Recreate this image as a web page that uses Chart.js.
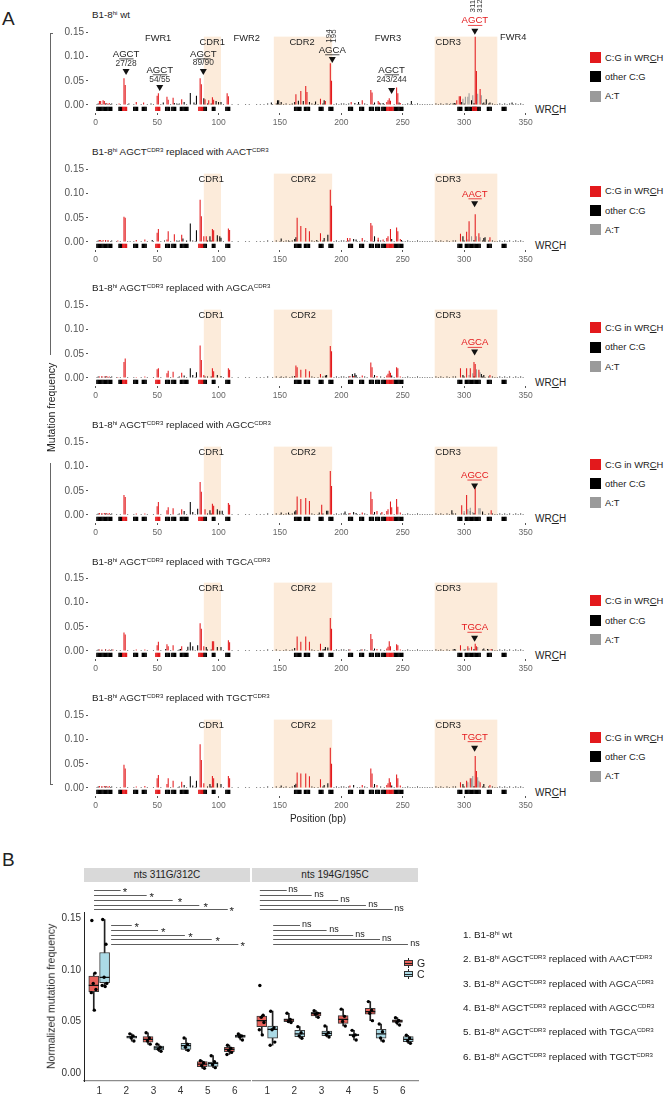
<!DOCTYPE html>
<html>
<head>
<meta charset="utf-8">
<title>Mutation frequency</title>
<script src="https://cdn.jsdelivr.net/npm/chart.js@4.4.1/dist/chart.umd.min.js"></script>
<style>
  html, body { margin: 0; padding: 0; background: #fff; }
  #page { position: relative; width: 664px; height: 1097px; overflow: hidden;
          font-family: "Liberation Sans", Arial, Helvetica, sans-serif; color: #222; }
  #page div { position: absolute; white-space: nowrap; }
  #page canvas { position: absolute; }
  sup { font-size: 0.62em; line-height: 0; vertical-align: 0.55em; }
</style>
</head>
<body>
<div id="page"></div>
<script>
// ---------- Panel A: mutation frequency by position (bp) ----------
const xTicksA = [0, 50, 100, 150, 200, 250, 300, 350];
const yTicksA = [0, 0.05, 0.1, 0.15];
const motifs = ["AGCT", "AACT", "AGCA", "AGCC", "TGCA", "TGCT"];
const cdrRegions = [[88, 102], [145, 192.5], [276, 327]];

// WRCH motif track (start, end bp)
const trackBlack = [[1,13],[19,21],[31,34],[38,41],[57,60],[62,65],[69,75],[88,90],[95,97],[106,109],
  [162,167],[170,174],[182,185],[190,193],[206,209],[215,218],[223,226],[228,231],[233,236],[243,250],
  [295,298],[301,313],[319,322],[331,334]];
const trackRed = [[22,25],[49,52],[84,87],[237,242]];
const trackRedWt = [[307,310]];

// low background C:G mutations, similar in every panel
const baseBlack = [[1,0.002],[2,0.003],[5,0.002],[8,0.003],[10,0.002],[12,0.002],[13,0.003],[15,0.001],[17,0.002],[20,0.002],
  [26,0.002],[29,0.001],[31,0.002],[35,0.001],[37,0.002],[42,0.002],[44,0.001],[47,0.002],[53,0.002],[61,0.002],[67,0.002],
  [68,0.003],[74,0.002],[81,0.002],[91,0.003],[94,0.003],[104,0.002],[111,0.002],[113,0.001],[116,0.002],[119,0.001],
  [122,0.002],[125,0.002],[128,0.001],[131,0.002],[134,0.002],[137,0.002],[140,0.003],[144,0.002],[147,0.003],[150,0.002],
  [153,0.002],[155,0.003],[158,0.002],[160,0.003],[176,0.003],[178,0.002],[181,0.002],[185,0.003],[194,0.002],[196,0.003],
  [198,0.002],[200,0.003],[202,0.003],[204,0.002],[206,0.003],[213,0.002],[215,0.002],[219,0.003],[221,0.002],[226,0.002],
  [232,0.003],[235,0.002],[243,0.002],[250,0.002],[252,0.002],[254,0.003],[256,0.002],[258,0.002],[260,0.002],[262,0.003],
  [264,0.002],[266,0.002],[268,0.002],[270,0.002],[272,0.002],[274,0.002],[277,0.003],[279,0.002],[281,0.003],[283,0.002],
  [286,0.003],[288,0.002],[291,0.003],[293,0.003],[300,0.003],[308,0.004],[315,0.003],[317,0.002],[320,0.003],[323,0.003],
  [325,0.002],[327,0.002],[329,0.003],[331,0.002],[333,0.003],[335,0.002],[337,0.003],[340,0.002],[342,0.003],[344,0.002],
  [346,0.003],[348,0.002]];

// wt
const wtRed = [[3,0.008],[4,0.008],[6,0.010],[7,0.008],[9,0.004],[11,0.004],[19,0.003],[23,0.055],[24,0.041],[33,0.006],
  [39,0.005],[50,0.019],[51,0.024],[58,0.017],[59,0.011],[63,0.015],[70,0.012],[85,0.055],[86,0.043],[89,0.012],[92,0.010],
  [95,0.016],[96,0.011],[107,0.024],[108,0.018],[163,0.022],[167,0.029],[171,0.039],[172,0.027],[183,0.013],[187,0.008],
  [191,0.086],[192,0.050],[208,0.006],[217,0.010],[224,0.031],[225,0.026],[230,0.008],[231,0.005],[237,0.006],[238,0.010],
  [239,0.014],[240,0.009],[245,0.036],[246,0.024],[248,0.004],[294,0.010],[296,0.018],[297,0.018],[309,0.141],[310,0.070],
  [313,0.033]];
const wtBlack = [[27,0.003],[45,0.003],[55,0.005],[64,0.004],[66,0.003],[72,0.006],[77,0.025],[80,0.005],[82,0.019],
  [88,0.014],[98,0.008],[100,0.006],[102,0.006],[143,0.005],[148,0.010],[149,0.010],[151,0.006],[162,0.006],[165,0.009],
  [169,0.008],[174,0.006],[179,0.007],[186,0.010],[211,0.004],[214,0.006],[227,0.005],[234,0.004],[247,0.005],[257,0.008],
  [292,0.004],[298,0.006],[306,0.010],[316,0.005],[318,0.012],[321,0.005],[339,0.005]];
const wtGrey = [[285,0.003],[289,0.004],[299,0.013],[301,0.017],[303,0.017],[304,0.024],[307,0.020],[311,0.023],[314,0.020]];

// AACT
const aactRed = [[3,0.004],[4,0.004],[6,0.004],[8,0.004],[10,0.004],[18,0.003],[23,0.052],[24,0.050],[33,0.004],[40,0.005],
  [50,0.019],[51,0.027],[58,0.005],[59,0.022],[64,0.016],[70,0.015],[85,0.087],[86,0.053],[88,0.012],[90,0.012],[95,0.027],
  [96,0.024],[108,0.028],[109,0.025],[164,0.050],[167,0.033],[171,0.029],[174,0.022],[183,0.018],[191,0.108],[192,0.075],
  [205,0.008],[207,0.008],[217,0.008],[224,0.039],[225,0.034],[230,0.009],[234,0.005],[237,0.008],[238,0.012],[240,0.027],
  [245,0.030],[246,0.022],[248,0.006],[297,0.017],[302,0.021],[304,0.043],[309,0.057],[312,0.018],[321,0.010]];
const aactBlack = [[28,0.002],[46,0.004],[56,0.003],[66,0.003],[71,0.007],[74,0.003],[77,0.038],[79,0.003],[82,0.024],
  [93,0.012],[99,0.014],[101,0.012],[102,0.009],[151,0.007],[157,0.003],[162,0.006],[163,0.010],[180,0.004],[186,0.008],
  [189,0.015],[210,0.006],[212,0.005],[227,0.012],[230,0.004],[241,0.006],[249,0.004],[299,0.012],[316,0.008],[317,0.010]];
const aactGrey = [[303,0.005],[306,0.012],[310,0.012],[313,0.010]];

// AGCA
const agcaRed = [[3,0.003],[5,0.004],[7,0.003],[9,0.004],[11,0.003],[18,0.002],[23,0.033],[24,0.040],[33,0.002],[40,0.003],
  [50,0.018],[51,0.020],[58,0.010],[59,0.015],[63,0.013],[70,0.011],[85,0.067],[86,0.037],[88,0.006],[95,0.020],[96,0.014],
  [108,0.020],[109,0.017],[163,0.026],[164,0.022],[167,0.017],[171,0.018],[174,0.014],[183,0.008],[191,0.066],[192,0.055],
  [207,0.004],[210,0.004],[217,0.005],[224,0.032],[225,0.022],[229,0.004],[237,0.005],[238,0.009],[239,0.015],[240,0.011],
  [245,0.022],[246,0.020],[248,0.003],[297,0.020],[302,0.020],[305,0.020],[308,0.033],[309,0.029],[312,0.017],[321,0.006]];
const agcaBlack = [[72,0.005],[77,0.020],[79,0.006],[82,0.012],[89,0.003],[99,0.006],[102,0.004],[151,0.003],[162,0.004],
  [187,0.005],[188,0.006],[209,0.008],[211,0.010],[212,0.006],[227,0.006],[241,0.005],[299,0.006],[314,0.008],[316,0.006]];
const agcaGrey = [[304,0.006],[307,0.010],[310,0.018],[313,0.012]];

// AGCC
const agccRed = [[3,0.004],[5,0.004],[7,0.004],[9,0.004],[11,0.004],[23,0.041],[24,0.037],[33,0.003],[40,0.003],[50,0.018],
  [51,0.027],[58,0.010],[59,0.016],[63,0.014],[70,0.012],[85,0.068],[86,0.048],[89,0.012],[95,0.023],[96,0.019],[108,0.025],
  [109,0.021],[164,0.038],[167,0.033],[171,0.035],[174,0.029],[184,0.021],[191,0.091],[192,0.060],[207,0.004],[217,0.005],
  [224,0.048],[225,0.033],[229,0.008],[233,0.006],[237,0.008],[238,0.012],[240,0.028],[241,0.016],[245,0.033],[246,0.017],
  [248,0.005],[298,0.020],[302,0.041],[309,0.063],[322,0.010]];
const agccBlack = [[72,0.008],[77,0.027],[79,0.006],[83,0.013],[93,0.010],[99,0.012],[101,0.009],[103,0.009],[151,0.005],
  [157,0.005],[162,0.007],[163,0.010],[182,0.005],[188,0.009],[189,0.009],[203,0.007],[210,0.006],[212,0.004],[227,0.006],
  [290,0.010],[305,0.008],[315,0.007]];
const agccGrey = [[300,0.008],[303,0.012],[305,0.015],[307,0.006],[312,0.014],[313,0.014]];

// TGCA
const tgcaRed = [[3,0.003],[5,0.003],[8,0.003],[11,0.003],[14,0.003],[23,0.038],[24,0.034],[33,0.003],[40,0.003],[50,0.012],
  [51,0.019],[58,0.014],[59,0.010],[63,0.012],[70,0.010],[85,0.057],[86,0.046],[88,0.010],[95,0.020],[96,0.020],[108,0.022],
  [109,0.018],[164,0.030],[167,0.019],[171,0.030],[174,0.019],[183,0.015],[191,0.068],[192,0.046],[207,0.003],[217,0.003],
  [224,0.035],[225,0.025],[229,0.004],[237,0.005],[238,0.009],[239,0.020],[240,0.010],[245,0.014],[246,0.012],[248,0.003],
  [297,0.012],[303,0.010],[306,0.009],[309,0.015],[310,0.010],[322,0.004]];
const tgcaBlack = [[57,0.004],[69,0.004],[75,0.009],[77,0.018],[79,0.010],[83,0.012],[90,0.008],[99,0.008],[102,0.008],
  [162,0.006],[186,0.004],[187,0.008],[189,0.007],[216,0.003],[227,0.005],[292,0.004],[316,0.005],[319,0.004]];
const tgcaGrey = [[301,0.004],[304,0.006],[311,0.008]];

// TGCT
const tgctRed = [[3,0.004],[5,0.004],[7,0.004],[9,0.004],[11,0.004],[23,0.048],[24,0.040],[33,0.003],[40,0.004],[50,0.020],
  [51,0.027],[58,0.008],[59,0.020],[63,0.015],[70,0.013],[85,0.090],[86,0.058],[88,0.010],[95,0.025],[96,0.020],[108,0.025],
  [109,0.020],[164,0.032],[167,0.030],[171,0.030],[174,0.024],[183,0.018],[191,0.083],[192,0.050],[207,0.005],[217,0.006],
  [224,0.040],[225,0.030],[229,0.006],[237,0.006],[238,0.010],[239,0.020],[240,0.012],[245,0.028],[246,0.020],[248,0.005],
  [297,0.012],[302,0.015],[305,0.020],[309,0.066],[310,0.035],[313,0.012],[321,0.006]];
const tgctBlack = [[72,0.006],[77,0.024],[79,0.005],[82,0.015],[93,0.008],[99,0.010],[102,0.008],[151,0.005],[162,0.006],
  [163,0.009],[186,0.006],[189,0.010],[210,0.006],[227,0.008],[241,0.005],[299,0.008],[316,0.008]];
const tgctGrey = [[303,0.012],[306,0.020],[307,0.025],[311,0.022],[312,0.015]];

// ---------- Panel B: normalized mutation frequency (box stats: min, q1, median, q3, max) ----------
const sampleLabels = ["1", "2", "3", "4", "5", "6"];
const facetNames = ["nts 311G/312C", "nts 194G/195C"];
const g311Box = [[0.061,0.079,0.085,0.094,0.097], null, [0.028,0.030,0.0327,0.0353,0.039], null,
  [0.0045,0.0061,0.0087,0.011,0.012], [0.018,0.0207,0.023,0.0249,0.027]];
const c312Box = [[0.084,0.0877,0.0929,0.117,0.149], [0.031,0.0337,0.035,0.0359,0.038], [0.021,0.0223,0.0243,0.0262,0.028],
  [0.0217,0.023,0.0265,0.0288,0.034], [0.0052,0.0065,0.0094,0.0107,0.0168], [0.032,0.0346,0.0359,0.0369,0.0379]];
const g194Box = [[0.037,0.045,0.0508,0.0553,0.056], [0.049,0.0498,0.0515,0.0527,0.058], [0.054,0.0553,0.0576,0.0589,0.0605],
  [0.0456,0.0482,0.0521,0.0557,0.062], [0.0508,0.057,0.0595,0.0628,0.0693], [0.0466,0.0492,0.0505,0.0515,0.0537]];
const c195Box = [[0.027,0.0337,0.0424,0.0456,0.060], [0.0337,0.0353,0.0379,0.0414,0.045], [0.035,0.0362,0.0385,0.0408,0.0456],
  [0.032,0.0362,0.0369,0.0379,0.0414], [0.031,0.0337,0.0379,0.0424,0.0476], [0.0288,0.0304,0.0327,0.0353,0.0366]];
const g311Pts = [[0.148,0.097,0.087,0.081,0.078,0.061], [], [0.039,0.034,0.031,0.028], [], [0.012,0.010,0.007,0.0045],
  [0.027,0.024,0.022,0.020,0.018]];
const c312Pts = [[0.149,0.125,0.093,0.087,0.085,0.084], [0.038,0.036,0.034,0.031], [0.028,0.025,0.023,0.021],
  [0.034,0.028,0.025,0.022], [0.0168,0.011,0.008,0.0052], [0.0379,0.036,0.035,0.032]];
const g194Pts = [[0.085,0.056,0.054,0.049,0.042,0.037], [0.058,0.052,0.050,0.049], [0.0605,0.058,0.057,0.054],
  [0.062,0.055,0.050,0.0456], [0.0693,0.061,0.058,0.0508], [0.0537,0.051,0.049,0.0466]];
const c195Pts = [[0.060,0.044,0.042,0.030,0.027], [0.045,0.039,0.036,0.0337], [0.0456,0.039,0.037,0.035],
  [0.0414,0.037,0.036,0.032], [0.0476,0.040,0.034,0.031], [0.0366,0.034,0.031,0.0288]];
const sig311 = ["*", "*", "*", "*", "*"];
const sig194 = ["ns", "ns", "ns", "ns", "ns"];

// ---------- drawing ----------
const FONT = '"Liberation Sans", Arial, Helvetica, sans-serif';
const RED = "#e3191c", GREY = "#9a9a9a", SHADE = "#fcebda";
const GFILL = "#e8625b", CFILL = "#abdae6";
Chart.defaults.font.family = FONT;
Chart.defaults.color = "#333";

const page = document.getElementById("page");
function el(tag, css, html) {
  const e = document.createElement(tag);
  e.style.cssText = css;
  if (html != null) e.innerHTML = html;
  page.appendChild(e);
  return e;
}
function txt(x, cy, html, size, extra) {
  return el("div", `left:${x}px;top:${cy - size * 0.6}px;font-size:${size}px;line-height:${size * 1.2}px;${extra || ""}`, html);
}
function makeCanvas(x, y, w, h) {
  const c = el("canvas", `left:${x}px;top:${y}px;width:${w}px;height:${h}px`);
  c.width = w; c.height = h;
  return c;
}
function drawText(ctx, s, px, py, size, color, ul) {
  ctx.save();
  ctx.font = `${size}px ${FONT}`;
  ctx.fillStyle = color; ctx.textAlign = "left"; ctx.textBaseline = "middle";
  const w = ctx.measureText(s).width, x0 = px - w / 2;
  ctx.fillText(s, x0, py);
  if (ul) {
    const a = ctx.measureText(s.slice(0, ul[0])).width, b = ctx.measureText(s.slice(0, ul[1])).width;
    ctx.strokeStyle = color; ctx.lineWidth = 0.8;
    ctx.beginPath(); ctx.moveTo(x0 + a, py + size * 0.5); ctx.lineTo(x0 + b, py + size * 0.5); ctx.stroke();
  }
  ctx.restore();
}
function drawVert(ctx, s, px, py, size) {
  ctx.save();
  ctx.translate(px, py); ctx.rotate(-Math.PI / 2);
  ctx.font = `${size}px ${FONT}`; ctx.fillStyle = "#333"; ctx.textAlign = "center"; ctx.textBaseline = "middle";
  ctx.fillText(s, 0, 0);
  ctx.restore();
}
function drawTri(ctx, px, py) {
  ctx.save();
  ctx.fillStyle = "#111";
  ctx.beginPath(); ctx.moveTo(px - 3.5, py - 3); ctx.lineTo(px + 3.5, py - 3); ctx.lineTo(px, py + 3); ctx.closePath(); ctx.fill();
  ctx.restore();
}

const regionLabelsWt = [["FWR1", 50.8, 0.138], ["CDR1", 94.8, 0.130], ["FWR2", 123, 0.138], ["CDR2", 168, 0.130],
  ["FWR3", 238, 0.138], ["CDR3", 287, 0.130], ["FWR4", 340, 0.140]];
const regionLabels = [["CDR1", 94, 0.130], ["CDR2", 169, 0.130], ["CDR3", 287, 0.130]];
const wtMarks = [
  { x: 24.7, t: "AGCT", ty: 0.105, n: "27/28", ny: 0.0846, tri: 0.068 },
  { x: 52.1, t: "AGCT", ty: 0.0722, n: "54/55", ny: 0.0516, tri: 0.035 },
  { x: 87.6, t: "AGCT", ty: 0.105, n: "89/90", ny: 0.0867, tri: 0.068 },
  { x: 192.6, t: "AGCA", ty: 0.1135, v: ["194", "195"], vx: 191.9, vd: 2.2, vy: 0.1424, tri: 0.0928 },
  { x: 240.9, t: "AGCT", ty: 0.0722, n: "243/244", ny: 0.0516, tri: 0.0289 },
  { x: 308.7, t: "AGCT", ty: 0.174, v: ["311", "312"], vx: 309.9, vd: 3.1, vy: 0.204, tri: 0.151, red: true }
];
const motifMarks = [null, { ty: 0.099, tri: 0.078 }, { ty: 0.073, tri: 0.0526 }, { ty: 0.082, tri: 0.059 },
  { ty: 0.0485, tri: 0.0255 }, { ty: 0.1055, tri: 0.081 }];

function panelDeco(k) {
  return {
    id: "deco" + k,
    beforeDatasetsDraw(chart) {
      const { ctx, scales: { x, y } } = chart;
      ctx.save();
      ctx.fillStyle = SHADE;
      cdrRegions.forEach(([a, b]) => {
        const x0 = x.getPixelForValue(a), x1 = x.getPixelForValue(b);
        const y0 = y.getPixelForValue(0.141), y1 = y.getPixelForValue(0);
        ctx.fillRect(x0, y0, x1 - x0, y1 - y0);
      });
      ctx.restore();
    },
    afterDraw(chart) {
      const { ctx, scales: { x, y } } = chart;
      (k === 0 ? regionLabelsWt : regionLabels).forEach(([t, bx, v]) =>
        drawText(ctx, t, x.getPixelForValue(bx), y.getPixelForValue(v), 9.3, "#222"));
      if (k === 0) {
        wtMarks.forEach(m => {
          const px = x.getPixelForValue(m.x);
          drawText(ctx, m.t, px, y.getPixelForValue(m.ty), 9.6, m.red ? RED : "#222", [1, 3]);
          if (m.n) drawText(ctx, m.n, px, y.getPixelForValue(m.ny), 8.4, "#333");
          if (m.v) m.v.forEach((s, i) =>
            drawVert(ctx, s, x.getPixelForValue(m.vx + (i ? m.vd : -m.vd)), y.getPixelForValue(m.vy), 8));
          drawTri(ctx, px, y.getPixelForValue(m.tri));
        });
      } else {
        const m = motifMarks[k];
        drawText(ctx, motifs[k], x.getPixelForValue(308.7), y.getPixelForValue(m.ty), 9.6, RED, [1, 3]);
        drawTri(ctx, x.getPixelForValue(308.5), y.getPixelForValue(m.tri));
      }
    }
  };
}

const toXY = arr => arr.map(([x, y]) => ({ x, y }));
const segs = list => list.flatMap(([a, b]) => {
  const out = [];
  for (let p = a; p <= b; p++) out.push({ x: p, y: [-0.0124, -0.0036] });
  return out;
});

const panelsA = [
  { red: wtRed, black: wtBlack, grey: wtGrey, tr: trackRed.concat(trackRedWt) },
  { red: aactRed, black: aactBlack, grey: aactGrey, tr: trackRed },
  { red: agcaRed, black: agcaBlack, grey: agcaGrey, tr: trackRed },
  { red: agccRed, black: agccBlack, grey: agccGrey, tr: trackRed },
  { red: tgcaRed, black: tgcaBlack, grey: tgcaGrey, tr: trackRed },
  { red: tgctRed, black: tgctBlack, grey: tgctGrey, tr: trackRed }
];

txt(2, 19, "A", 19);
panelsA.forEach((p, k) => {
  const zero = 105 + 136.6 * k;
  const title = k === 0 ? "B1-8<sup>hi</sup> wt"
    : `B1-8<sup>hi</sup> AGCT<sup>CDR3</sup> replaced with ${motifs[k]}<sup>CDR3</sup>`;
  txt(92, zero - 90, title, 9.8);
  txt(535, zero + 4.5, "WR<u>C</u>H", 10);
  const lg = k === 0 ? 57.5 : zero - 50.5;
  [[RED, "C:G in WR<u>C</u>H"], ["#000", "other C:G"], [GREY, "A:T"]].forEach(([c, t], i) => {
    el("div", `left:590px;top:${lg + i * 19.3 - 5.5}px;width:11px;height:11px;background:${c}`);
    txt(605, lg + i * 19.3, t, 9.4);
  });

  const canvas = makeCanvas(0, zero - 105, 560, 140);
  const bar = { grouped: false, barPercentage: 0.85, categoryPercentage: 1, borderWidth: 0 };
  new Chart(canvas, {
    type: "bar",
    data: {
      datasets: [
        { ...bar, label: "track C:G in WRCH", data: segs(p.tr), backgroundColor: RED, barPercentage: 1.25, order: 0 },
        { ...bar, label: "C:G in WRCH", data: toXY(p.red), backgroundColor: RED, order: 1 },
        { ...bar, label: "A:T", data: toXY(p.grey), backgroundColor: GREY, order: 2 },
        { ...bar, label: "other C:G", data: toXY(p.black.concat(baseBlack)), backgroundColor: "#000", order: 3 },
        { ...bar, label: "track WRCH", data: segs(trackBlack), backgroundColor: "#000", barPercentage: 1.25, order: 4 }
      ]
    },
    options: {
      responsive: false, animation: false, devicePixelRatio: 1,
      layout: { autoPadding: false, padding: { top: 31.3, right: 26.7, bottom: 0, left: 0 } },
      plugins: { legend: { display: false }, tooltip: { enabled: false } },
      scales: {
        x: {
          type: "linear", min: -6.3, max: 356.3, offset: false,
          grid: { display: true, drawOnChartArea: false, drawTicks: true, tickLength: 2, color: "#555", offset: false },
          border: { display: false },
          afterBuildTicks: s => { s.ticks = xTicksA.map(v => ({ value: v })); },
          afterFit: s => { s.height = 27; },
          ticks: { font: { size: 8.5 }, color: "#666", padding: 3, autoSkip: false, maxRotation: 0 }
        },
        y: {
          type: "linear", min: -0.0165, max: 0.152,
          grid: { display: true, drawOnChartArea: false, drawTicks: true, tickLength: 2, color: "#555" },
          border: { display: false },
          afterBuildTicks: s => { s.ticks = yTicksA.map(v => ({ value: v })); },
          afterFit: s => { s.width = 88; },
          ticks: { font: { size: 10 }, color: "#555", padding: 2, callback: v => v.toFixed(2) }
        }
      }
    },
    plugins: [panelDeco(k)]
  });
});

// shared y label of panel A
el("div", "left:50px;top:33px;width:1px;height:322px;background:#666");
el("div", "left:50px;top:33px;width:3px;height:1px;background:#666");
el("div", "left:50px;top:463px;width:1px;height:322px;background:#666");
el("div", "left:50px;top:784px;width:3px;height:1px;background:#666");
txt(51, 407, "Mutation frequency", 10.5, "transform:translate(-50%,0) rotate(-90deg);");
txt(318, 819, "Position (bp)", 10, "transform:translateX(-50%);");

// ---------- Panel B ----------
txt(2, 860, "B", 19);
const jitter = [-0.07, 0.05, -0.02, 0.08, -0.09, 0.02];
function boxSets(stats, pts, off, fill) {
  const has = sampleLabels.map((_, i) => i).filter(i => stats[i]);
  const at = i => i + 1 + off;
  return [
    { type: "scatter", data: pts.flatMap((vals, i) => vals.map((v, j) => ({ x: at(i) + jitter[j % jitter.length], y: v }))),
      pointRadius: 1.7, pointBackgroundColor: "#000", pointBorderWidth: 0, order: 0 },
    { type: "scatter", data: has.map(i => ({ x: at(i), y: stats[i][2] })),
      pointStyle: "line", pointRadius: 5, pointBorderColor: "#111", pointBorderWidth: 1.3, order: 1 },
    { type: "bar", data: has.map(i => ({ x: at(i), y: [stats[i][1], stats[i][3]] })), backgroundColor: fill,
      borderColor: "#3a3a3a", borderWidth: 1, borderSkipped: false, barThickness: 10, grouped: false, order: 2 },
    { type: "bar", data: has.map(i => ({ x: at(i), y: [stats[i][0], stats[i][4]] })), backgroundColor: "#222",
      barThickness: 1, grouped: false, order: 3 }
  ];
}
function sigPlugin(cfg) {
  return {
    id: "sig",
    afterDraw(chart) {
      const { ctx, scales: { x, y } } = chart;
      ctx.save();
      ctx.strokeStyle = "#333"; ctx.lineWidth = 0.8; ctx.fillStyle = "#222";
      ctx.font = `${cfg.size}px ${FONT}`; ctx.textAlign = "center"; ctx.textBaseline = "middle";
      cfg.groups.forEach(g => g.to.forEach((t, i) => {
        const py = Math.round(y.getPixelForValue(g.y[i])) + 0.5;
        ctx.beginPath(); ctx.moveTo(x.getPixelForValue(g.from), py); ctx.lineTo(x.getPixelForValue(t), py); ctx.stroke();
        ctx.fillText(cfg.labels[i], x.getPixelForValue(g.lab[i]), py + cfg.dy);
      }));
      ctx.restore();
    }
  };
}
const topY = [0.1777, 0.1728, 0.1680, 0.1631, 0.1592], lowY = [0.1437, 0.1388, 0.1340, 0.1301, 0.1252];
const sigLeft = { labels: sig311, size: 11.5, dy: 2.5, groups: [
  { from: 0.81, to: [1.79, 2.75, 3.71, 4.69, 5.74], lab: [1.95, 2.94, 3.98, 4.93, 5.89], y: topY },
  { from: 1.44, to: [2.2, 3.17, 4.16, 5.15, 6.13], lab: [2.38, 3.36, 4.37, 5.37, 6.29], y: lowY }] };
const sigRight = { labels: sig194, size: 9, dy: -1, groups: [
  { from: 0.73, to: [1.72, 2.64, 3.62, 4.64, 5.63], lab: [1.95, 2.91, 3.87, 4.9, 5.86], y: topY },
  { from: 1.22, to: [2.21, 3.19, 4.17, 5.16, 6.19], lab: [2.46, 3.46, 4.42, 5.41, 6.45], y: lowY }] };

function boxChart(left, width, padRight, G, Gp, C, Cp, sig, showY) {
  const canvas = makeCanvas(left, 840, width, 257);
  new Chart(canvas, {
    type: "bar",
    data: { datasets: [...boxSets(G, Gp, -0.2, GFILL), ...boxSets(C, Cp, 0.2, CFILL)] },
    options: {
      responsive: false, animation: false, devicePixelRatio: 1,
      layout: { autoPadding: false, padding: { top: 72.3, right: padRight, bottom: 0, left: 0 } },
      plugins: { legend: { display: false }, tooltip: { enabled: false } },
      scales: {
        x: {
          type: "linear", min: 0.44, max: 6.56, offset: false,
          grid: { display: false, drawTicks: false },
          border: { display: true, color: "#8c8c8c", width: 1.3 },
          afterBuildTicks: s => { s.ticks = sampleLabels.map((_, i) => ({ value: i + 1 })); },
          afterFit: s => { s.height = 16; },
          ticks: { callback: (v, i) => sampleLabels[i], font: { size: 10 }, color: "#333", padding: 4, autoSkip: false, maxRotation: 0 }
        },
        y: {
          type: "linear", display: showY, min: -0.00777, max: 0.156,
          grid: { display: false, drawTicks: false },
          border: { display: true, color: "#222", width: 1 },
          afterBuildTicks: s => { s.ticks = yTicksA.map(v => ({ value: v })); },
          afterFit: s => { s.width = showY ? 84 : 0; },
          ticks: { font: { size: 10 }, color: "#333", padding: 3, callback: v => v.toFixed(2) }
        }
      }
    },
    plugins: [sigPlugin(sig)]
  });
}
boxChart(0, 252, 2, g311Box, g311Pts, c312Box, c312Pts, sigLeft, true);
boxChart(252, 180, 14, g194Box, g194Pts, c195Box, c195Pts, sigRight, false);

// facet strips
facetNames.forEach((f, i) => {
  el("div", `left:${84 + i * 168}px;top:868px;width:166px;height:14px;background:#d9d9d9;font-size:10px;line-height:14px;text-align:center`, f);
});
txt(51, 996, "Normalized mutation frequency", 10.5, "transform:translate(-50%,0) rotate(-90deg);");

// G / C key
[[GFILL, "G", 963], [CFILL, "C", 974]].forEach(([c, t, cy]) => {
  el("div", `left:404px;top:${cy - 3}px;width:9px;height:6px;background:${c};border:1px solid #333;box-sizing:border-box`);
  el("div", `left:404px;top:${cy}px;width:9px;height:1px;background:#222`);
  el("div", `left:408px;top:${cy - 5}px;width:1px;height:2px;background:#222`);
  el("div", `left:408px;top:${cy + 3}px;width:1px;height:2px;background:#222`);
  txt(417, cy, t, 10.5);
});

// sample names
motifs.forEach((m, i) => {
  const name = i === 0 ? "B1-8<sup>hi</sup> wt"
    : `B1-8<sup>hi</sup> AGCT<sup>CDR3</sup> replaced with ${m}<sup>CDR3</sup>`;
  txt(463, 935 + i * 24.3, `${i + 1}. ${name}`, 9.9);
});
</script>
</body>
</html>
